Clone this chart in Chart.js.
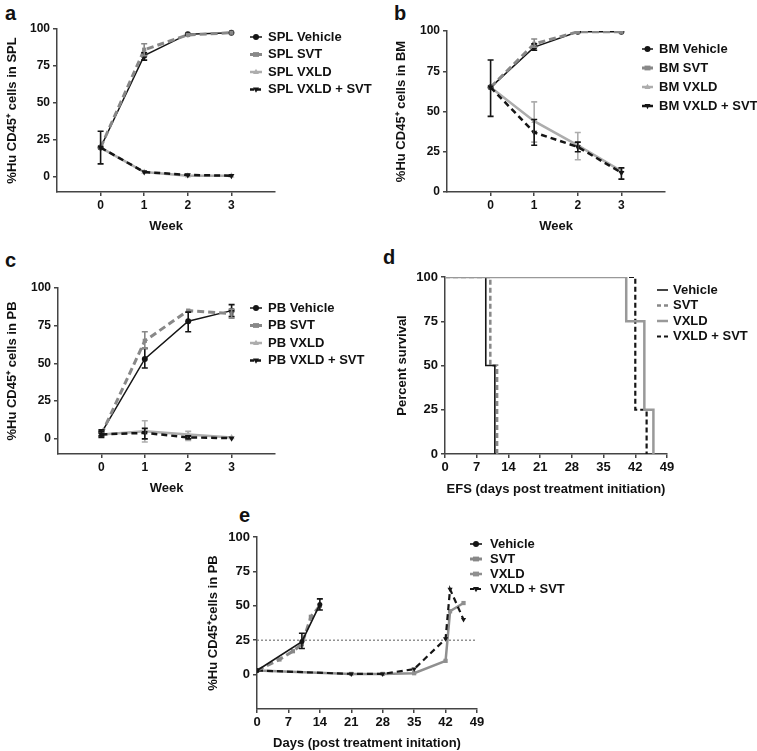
<!DOCTYPE html>
<html><head><meta charset="utf-8">
<script src="https://cdn.jsdelivr.net/npm/chart.js@4"></script>
<style>
body{margin:0;background:#fff;width:757px;height:751px;overflow:hidden;position:relative;font-family:"Liberation Sans",Arial,sans-serif;}
canvas{position:absolute;left:0;top:0;}
.lbl{position:absolute;font-weight:bold;font-size:20px;line-height:20px;color:#111;}
</style></head><body>
<div class="lbl" style="left:5px;top:3px">a</div>
<div class="lbl" style="left:394px;top:3px">b</div>
<div class="lbl" style="left:5px;top:250px">c</div>
<div class="lbl" style="left:383px;top:247px">d</div>
<div class="lbl" style="left:239px;top:505px">e</div>
<canvas id="ca" width="757" height="751"></canvas>
<canvas id="cb" width="757" height="751"></canvas>
<canvas id="cc" width="757" height="751"></canvas>
<canvas id="cd" width="757" height="751"></canvas>
<canvas id="ce" width="757" height="751"></canvas>
<script>
// ---------- DATA ----------
const weeks = [0, 1, 2, 3];
const weekTicks = [0, 1, 2, 3];
const pctTicks = [0, 25, 50, 75, 100];
const dayTicks = [0, 7, 14, 21, 28, 35, 42, 49];

// a: spleen
const splVehicle = [20, 82, 96.5, 97.5];
const splVehicleErr = [[9, 31], [79, 84], null, null];
const splSVT = [20, 86, 96, 97.5];
const splSVTErr = [null, [82, 90], null, null];
const splVXLD = [20, 3.5, 1, 1];
const splCombo = [20, 3.5, 1.5, 1];

// b: bone marrow
const bmVehicle = [65, 90, 99.5, 99.5];
const bmVehicleErr = [[47, 82], [88, 92], null, null];
const bmSVT = [65, 92, 99.5, 99.5];
const bmSVTErr = [null, [90, 95], null, null];
const bmVXLD = [65, 44, 29, 13];
const bmVXLDErr = [null, [31, 56], [20, 37], null];
const bmCombo = [65, 37, 28, 12];
const bmComboErr = [null, [29, 45], [25, 31], [8, 15]];

// c: peripheral blood
const pbVehicle = [4, 53, 78, 85];
const pbVehicleErr = [[2, 6], [47, 60], [71, 84], [81, 89]];
const pbSVT = [3, 65, 85, 83];
const pbSVTErr = [null, [60, 71], null, [80, 86]];
const pbVXLD = [3, 5, 3, 1];
const pbVXLDErr = [null, [-2, 12], [-1, 5], null];
const pbCombo = [3, 4, 1, 0.5];
const pbComboErr = [[1, 5], [0, 7], [0, 2], null];

// d: survival
const survDaysVehicle = [0, 9, 11];
const survVehicle = [100, 50, 0];
const survDaysSVT = [0, 10, 11.5];
const survSVT = [100, 50, 0];
const survDaysVXLD = [0, 40, 44, 46];
const survVXLD = [100, 75, 25, 0];
const survDaysCombo = [0, 42, 44.5];
const survCombo = [100, 25, 0];

// e: PB over days
const daysVehicle = [0, 10, 14];
const peVehicle = [3, 24, 51];
const peVehicleErr = [null, [19, 30], [47, 55]];
const daysSVT = [0, 5, 8, 10, 12, 14];
const peSVT = [3, 11, 17, 22, 42, 50];
const daysVXLD = [0, 21, 28, 35, 42, 43, 46];
const peVXLD = [3, 0.5, 0.5, 1, 10, 46, 52];
const daysCombo = [0, 21, 28, 35, 42, 43, 46];
const peCombo = [3, 0.5, 0.5, 4, 26, 62, 40];
const thresholdDays = [0, 49];
const threshold = [25, 25];

// ---------- HELPERS ----------
const FONT = '"Liberation Sans", Arial, sans-serif';
const pts = (xs, ys) => xs.map((x, i) => ({x: x, y: ys[i]}));

function drawMarker(ctx, style, x, y, r, color, rot) {
  ctx.save();
  ctx.fillStyle = color; ctx.strokeStyle = color; ctx.setLineDash([]); ctx.lineWidth = 1;
  ctx.translate(x, y); ctx.rotate((rot || 0) * Math.PI / 180);
  ctx.beginPath();
  if (style === 'circle') ctx.arc(0, 0, r, 0, Math.PI * 2);
  else if (style === 'rect') ctx.rect(-r, -r * 0.8, 2 * r, 1.6 * r);
  else if (style === 'triangle') { ctx.moveTo(0, -r * 1.1); ctx.lineTo(r, r * 0.7); ctx.lineTo(-r, r * 0.7); ctx.closePath(); }
  ctx.fill();
  ctx.restore();
}

const errorBarPlugin = {
  id: 'errbars',
  afterDatasetsDraw(chart) {
    const ctx = chart.ctx, xs = chart.scales.x, ys = chart.scales.y;
    chart.data.datasets.forEach(ds => {
      if (!ds.errorBars) return;
      ctx.save();
      ctx.strokeStyle = ds.errColor || ds.borderColor; ctx.lineWidth = 1.6; ctx.setLineDash([]);
      ds.errorBars.forEach((e, j) => {
        if (!e) return;
        const x = xs.getPixelForValue(ds.data[j].x);
        const y1 = ys.getPixelForValue(e[0]), y2 = ys.getPixelForValue(e[1]);
        ctx.beginPath();
        ctx.moveTo(x, y1); ctx.lineTo(x, y2);
        ctx.moveTo(x - 3, y1); ctx.lineTo(x + 3, y1);
        ctx.moveTo(x - 3, y2); ctx.lineTo(x + 3, y2);
        ctx.stroke();
      });
      ctx.restore();
    });
  }
};

const sideLegendPlugin = {
  id: 'sideLegend',
  afterDraw(chart, args, o) {
    if (!o || o.x0 === undefined) return;
    const ctx = chart.ctx;
    ctx.save();
    ctx.font = 'bold ' + (o.size || 13) + 'px ' + FONT;
    ctx.textBaseline = 'middle';
    let i = 0;
    chart.data.datasets.forEach(ds => {
      if (!ds.label) return;
      const y = o.y0 + i * o.dy; i++;
      ctx.strokeStyle = ds.borderColor; ctx.lineWidth = Math.min(ds.borderWidth, 3);
      ctx.setLineDash(ds.legendDash || []);
      ctx.beginPath(); ctx.moveTo(o.x0, y); ctx.lineTo(o.x0 + o.len, y); ctx.stroke();
      if (ds.legendMarker) drawMarker(ctx, ds.legendMarker, o.x0 + o.len / 2, y, 3, ds.pointBackgroundColor || ds.borderColor, ds.pointRotation);
      ctx.fillStyle = '#111';
      ctx.fillText(ds.label, o.textX, y);
    });
    ctx.restore();
  }
};

function makeChart(id, box, datasets, opt) {
  const tfs = 13, lh = tfs * 1.2;
  const axisLeft = box.yTitleX - 4 - lh / 2;
  const W = box.left - axisLeft;
  const H = box.xTitleY + 4 + lh / 2 - box.bottom;
  const tickFont = {family: FONT, weight: 'bold', size: opt.tickSize || 12};
  const titleFont = {family: FONT, weight: 'bold', size: tfs};
  const axisCommon = {
    grid: {display: true, drawOnChartArea: false, drawTicks: true, tickLength: 4, color: '#444', lineWidth: 1.5},
    border: {display: true, color: '#444', width: 1.5},
  };
  return new Chart(document.getElementById(id), {
    type: 'line',
    data: {datasets: datasets},
    options: {
      responsive: false, animation: false,
      layout: {padding: {left: axisLeft, top: box.top, right: 757 - box.right, bottom: 751 - box.bottom - H}},
      plugins: {legend: {display: false}, tooltip: {enabled: false}, sideLegend: opt.legend},
      scales: {
        x: Object.assign({}, axisCommon, {
          type: 'linear', min: opt.xMin, max: opt.xMax,
          afterBuildTicks: s => { s.ticks = opt.xTicks.map(v => ({value: v})); },
          afterFit: s => { s.height = H; },
          ticks: {font: tickFont, color: '#111', padding: 2, maxRotation: 0, autoSkip: false},
          title: {display: true, text: opt.xTitle, font: titleFont, color: '#111', padding: {top: 4, bottom: 4}}
        }),
        y: Object.assign({}, axisCommon, {
          min: opt.yMin, max: opt.yMax,
          afterBuildTicks: s => { s.ticks = opt.yTicks.map(v => ({value: v})); },
          afterFit: s => { s.width = W; },
          ticks: {font: tickFont, color: '#111', padding: 3},
          title: {display: true, text: opt.yTitle, font: titleFont, color: '#111', padding: {top: 4, bottom: 4}}
        })
      }
    },
    plugins: [errorBarPlugin, sideLegendPlugin]
  });
}

const BLACK = '#151515', GRAY = '#888888', LGRAY = '#adadad';

function weekSets(prefix, veh, vehErr, svt, svtErr, vx, vxErr, co, coErr) {
  return [
    {label: prefix + ' Vehicle', data: pts(weeks, veh), errorBars: vehErr, borderColor: BLACK, borderWidth: 1.5,
     pointStyle: 'circle', pointRadius: 3, pointBackgroundColor: BLACK, pointBorderWidth: 0, legendMarker: 'circle', order: 2},
    {label: prefix + ' SVT', data: pts(weeks, svt), errorBars: svtErr, borderColor: GRAY, borderWidth: 3, borderDash: [7, 4], legendDash: [],
     pointStyle: 'rect', pointRadius: 3, pointBackgroundColor: GRAY, pointBorderWidth: 0, legendMarker: 'rect', order: 1},
    {label: prefix + ' VXLD', data: pts(weeks, vx), errorBars: vxErr, borderColor: LGRAY, borderWidth: 2.5,
     pointStyle: 'triangle', pointRadius: 3.5, pointBackgroundColor: LGRAY, pointBorderWidth: 0, legendMarker: 'triangle', order: 3},
    {label: prefix + ' VXLD + SVT', data: pts(weeks, co), errorBars: coErr, borderColor: BLACK, borderWidth: 2.5, borderDash: [6, 4], legendDash: [4, 3],
     pointStyle: 'triangle', pointRotation: 180, pointRadius: 3.5, pointBackgroundColor: BLACK, pointBorderWidth: 0, legendMarker: 'triangle', order: 0}
  ];
}

// a
makeChart('ca', {left: 57, right: 275, top: 29, bottom: 192, yTitleX: 12, xTitleY: 226},
  weekSets('SPL', splVehicle, splVehicleErr, splSVT, splSVTErr, splVXLD, null, splCombo, null),
  {xMin: -1, xMax: 4, xTicks: weekTicks, yMin: -10, yMax: 100, yTicks: pctTicks,
   xTitle: 'Week', yTitle: '%Hu CD45⁺ cells in SPL',
   legend: {x0: 250, len: 12, textX: 268, y0: 37, dy: 17.5}});

// b
makeChart('cb', {left: 447, right: 665, top: 31, bottom: 192, yTitleX: 401, xTitleY: 226},
  weekSets('BM', bmVehicle, bmVehicleErr, bmSVT, bmSVTErr, bmVXLD, bmVXLDErr, bmCombo, bmComboErr),
  {xMin: -1, xMax: 4, xTicks: weekTicks, yMin: 0, yMax: 100, yTicks: pctTicks,
   xTitle: 'Week', yTitle: '%Hu CD45⁺ cells in BM',
   legend: {x0: 642, len: 11, textX: 659, y0: 49, dy: 19}});

// c
makeChart('cc', {left: 58, right: 275, top: 288, bottom: 454, yTitleX: 12, xTitleY: 488},
  weekSets('PB', pbVehicle, pbVehicleErr, pbSVT, pbSVTErr, pbVXLD, pbVXLDErr, pbCombo, pbComboErr),
  {xMin: -1, xMax: 4, xTicks: weekTicks, yMin: -10, yMax: 100, yTicks: pctTicks,
   xTitle: 'Week', yTitle: '%Hu CD45⁺ cells in PB',
   legend: {x0: 250, len: 12, textX: 268, y0: 308, dy: 17.5}});

// d
makeChart('cd', {left: 445, right: 667, top: 277, bottom: 454, yTitleX: 402, xTitleY: 489}, [
    {label: 'Vehicle', data: pts(survDaysVehicle, survVehicle), stepped: 'before', borderColor: BLACK, borderWidth: 1.6, pointRadius: 0, order: 1},
    {label: 'SVT', data: pts(survDaysSVT, survSVT), stepped: 'before', borderColor: GRAY, borderWidth: 2.5, borderDash: [5, 3], legendDash: [4, 3], pointRadius: 0, order: 2},
    {label: 'VXLD', data: pts(survDaysVXLD, survVXLD), stepped: 'before', borderColor: '#999999', borderWidth: 2.5, pointRadius: 0, order: 0},
    {label: 'VXLD + SVT', data: pts(survDaysCombo, survCombo), stepped: 'before', borderColor: BLACK, borderWidth: 2.2, borderDash: [5, 3], legendDash: [4, 3], pointRadius: 0, order: 3}
  ],
  {xMin: 0, xMax: 49, xTicks: dayTicks, yMin: 0, yMax: 100, yTicks: pctTicks, tickSize: 13,
   xTitle: 'EFS (days post treatment initiation)', yTitle: 'Percent survival',
   legend: {x0: 657, len: 11, textX: 673, y0: 290, dy: 15.5}});

// e
makeChart('ce', {left: 257, right: 477, top: 537, bottom: 709, yTitleX: 213, xTitleY: 743}, [
    {label: 'Vehicle', data: pts(daysVehicle, peVehicle), errorBars: peVehicleErr, borderColor: BLACK, borderWidth: 1.6,
     pointStyle: 'circle', pointRadius: 2.5, pointBackgroundColor: BLACK, pointBorderWidth: 0, legendMarker: 'circle', order: 0},
    {label: 'SVT', data: pts(daysSVT, peSVT), borderColor: GRAY, borderWidth: 3, borderDash: [7, 4], legendDash: [],
     pointStyle: 'rect', pointRadius: 3, pointBackgroundColor: GRAY, pointBorderWidth: 0, legendMarker: 'rect', order: 1},
    {label: 'VXLD', data: pts(daysVXLD, peVXLD), borderColor: '#8f8f8f', borderWidth: 2.5,
     pointStyle: 'rect', pointRadius: 3, pointBackgroundColor: '#8f8f8f', pointBorderWidth: 0, legendMarker: 'rect', order: 3},
    {label: 'VXLD + SVT', data: pts(daysCombo, peCombo), borderColor: BLACK, borderWidth: 2.2, borderDash: [6, 4], legendDash: [4, 3],
     pointStyle: 'triangle', pointRotation: 180, pointRadius: 3, pointBackgroundColor: BLACK, pointBorderWidth: 0, legendMarker: 'triangle', order: 2},
    {label: '', data: pts(thresholdDays, threshold), borderColor: '#777', borderWidth: 1.2, borderDash: [2, 2], pointRadius: 0, order: 5}
  ],
  {xMin: 0, xMax: 49, xTicks: dayTicks, yMin: -25, yMax: 100, yTicks: pctTicks, tickSize: 13,
   xTitle: 'Days (post treatment initation)', yTitle: '%Hu CD45⁺cells in PB',
   legend: {x0: 470, len: 12, textX: 490, y0: 544, dy: 15}});
</script>
</body></html>
